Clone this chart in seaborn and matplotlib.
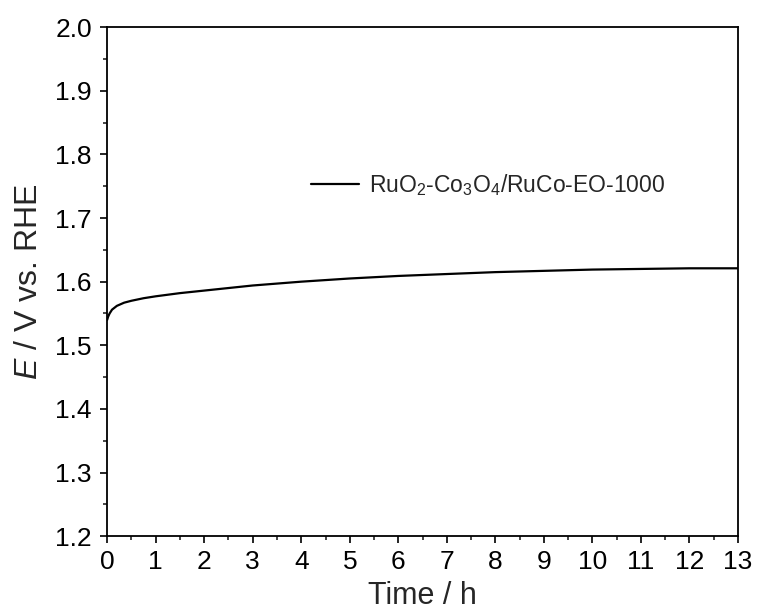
import pandas as pd
import seaborn as sns
import matplotlib.pyplot as plt
from matplotlib.ticker import MultipleLocator

# Datos (tiempo en h, potencial en V vs RHE)
tiempo = [0, 0.02, 0.05, 0.1, 0.2, 0.35, 0.5, 0.75, 1, 1.5, 2, 3, 4, 5, 6, 7, 8, 9, 10, 11, 12, 13]
potencial = [1.540, 1.545, 1.550, 1.556, 1.562, 1.567, 1.570, 1.574, 1.577, 1.582, 1.586,
             1.594, 1.600, 1.605, 1.609, 1.612, 1.615, 1.617, 1.619, 1.620, 1.621, 1.621]
etiqueta = 'RuO$_2$-Co$_3$O$_4$/RuCo-EO-1000'

sns.set_style('ticks')
plt.rcParams['font.family'] = ['Liberation Sans', 'DejaVu Sans']
plt.rcParams['mathtext.fontset'] = 'custom'
plt.rcParams['mathtext.rm'] = 'Liberation Sans'
plt.rcParams['mathtext.it'] = 'Liberation Sans:italic'

df = pd.DataFrame({'Time': tiempo, 'E': potencial, 'muestra': etiqueta})

fig = plt.figure(figsize=(7.6, 6.15), dpi=100)
ax = fig.add_axes([0.141, 0.128, 0.830, 0.828])
sns.lineplot(data=df, x='Time', y='E', hue='muestra', palette=['black'], linewidth=1.6, ax=ax)

ax.set_xlim(0, 13)
ax.set_ylim(1.2, 2.0)
ax.xaxis.set_major_locator(MultipleLocator(1))
ax.xaxis.set_minor_locator(MultipleLocator(0.5))
ax.yaxis.set_major_locator(MultipleLocator(0.1))
ax.yaxis.set_minor_locator(MultipleLocator(0.05))
ax.tick_params(which='major', direction='out', length=5, width=1.2, labelsize=19, colors='black')
ax.tick_params(axis='x', which='major', pad=5)
ax.tick_params(axis='y', which='major', pad=6)
ax.tick_params(which='minor', direction='out', length=3, width=1.2)
for s in ax.spines.values():
    s.set_linewidth(1.3)
    s.set_color('black')

ax.set_xlabel('Time / h', fontsize=22, labelpad=5)
ax.set_ylabel('$\\it{E}$ / V vs. RHE', fontsize=23, labelpad=8)

ax.legend(frameon=False, loc='center left', bbox_to_anchor=(0.29, 0.69),
          fontsize=16.5, handlelength=2.1, handletextpad=0.45)

fig.savefig('out.png', dpi=100)
